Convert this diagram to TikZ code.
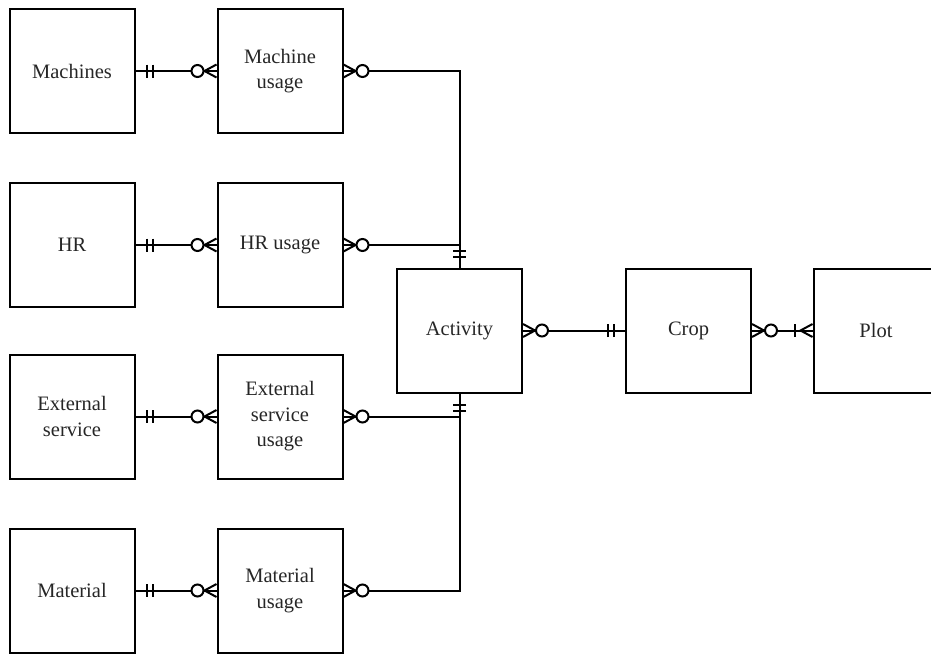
\documentclass[tikz,border=0pt]{standalone}
\usepackage{fontspec}
\setmainfont{Liberation Serif}
\begin{document}
\begin{tikzpicture}[x=1pt,y=-1pt,line width=2pt,
  entity/.style={draw,minimum width=125pt,minimum height=124pt,align=center,
    inner sep=0pt,font=\fontsize{20.5}{25.5}\selectfont,text=black!85},
  zmany/.pic={\draw (0,-6.5) -- (12,0) -- (0,6.5);
    \filldraw[fill=white] (19,0) circle (6);},
  mone/.pic={\draw (11,-6.5) -- (11,6.5); \draw (17,-6.5) -- (17,6.5);},
  onemany/.pic={\draw (0,-6.5) -- (12,0) -- (0,6.5); \draw (18,-6.5) -- (18,6.5);}]
\useasboundingbox (0,0) rectangle (931,654);
\clip (0,0) rectangle (931,654);

\node[entity] (mach) at (72,71) {Machines};
\node[entity] (machu) at (280,71) {Machine\\usage};
\node[entity] (hr) at (72,245) {HR};
\node[entity] (hru) at (280,245) {HR usage};
\node[entity] (ext) at (72,416.5) {External\\service};
\node[entity] (extu) at (280,416.5) {External\\service\\usage};
\node[entity] (mat) at (72,590.5) {Material};
\node[entity] (matu) at (280,590.5) {Material\\usage};
\node[entity] (act) at (459.5,330.5) {Activity};
\node[entity] (crop) at (688.5,330.5) {Crop};
\node[entity] (plot) at (876,330.5) {Plot};

\draw (mach.east) -- (machu.west);
\draw (hr.east) -- (hru.west);
\draw (ext.east) -- (extu.west);
\draw (mat.east) -- (matu.west);
\draw (machu.east) -| (act.north);
\draw (hru.east) -- (hru.east -| act.north);
\draw (extu.east) -- (extu.east -| act.south);
\draw (matu.east) -| (act.south);
\draw (act.east) -- (crop.west);
\draw (crop.east) -- (plot.west);

\foreach \a/\b in {mach/machu,hr/hru,ext/extu,mat/matu}{
  \pic at (\a.east) {mone};
  \pic[rotate=180] at (\b.west) {zmany};
  \pic at (\b.east) {zmany};
}
\pic[rotate=90] at (act.north) {mone};
\pic[rotate=-90] at (act.south) {mone};
\pic at (act.east) {zmany};
\pic[rotate=180] at (crop.west) {mone};
\pic at (crop.east) {zmany};
\pic[rotate=180] at (plot.west) {onemany};
\end{tikzpicture}
\end{document}
